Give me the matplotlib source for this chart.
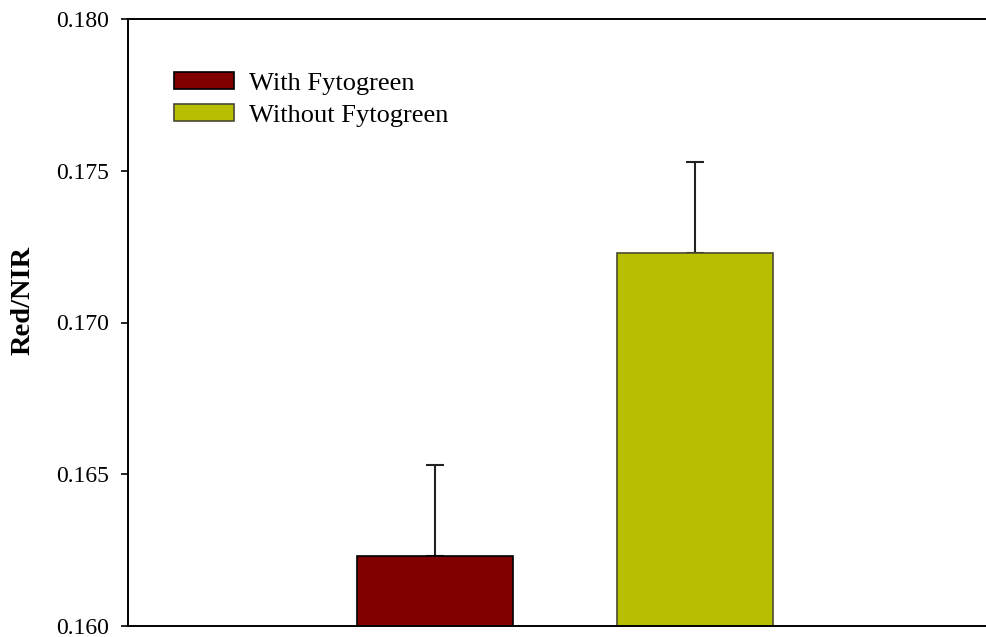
import matplotlib
matplotlib.use('Agg')
import matplotlib.pyplot as plt

# data
groups = ['With Fytogreen', 'Without Fytogreen']
values = [0.1623, 0.1723]
errors = [0.0030, 0.0030]
colors = ['#800000', '#b8bf00']
edges = ['#000000', '#4a4a30']

plt.rcParams['font.family'] = ['Liberation Serif', 'DejaVu Serif']

fig = plt.figure(figsize=(9.87, 6.37), dpi=100)
ax = fig.add_axes([128/987, 1-626/637, (987-128)/987 + 0.01, (626-19)/637])

pos = [0, 1]
for i in range(len(groups)):
    ax.bar(pos[i], values[i], width=0.6, color=colors[i], edgecolor=edges[i],
           linewidth=1.2, label=groups[i], zorder=2)
    ax.errorbar(pos[i], values[i], yerr=[[0], [errors[i]]], fmt='none',
                ecolor='#222222', elinewidth=1.5, capsize=6.5, capthick=1.5, zorder=1)

ax.set_xlim(-1.178, 2.16)
ax.set_ylim(0.160, 0.180)
ax.set_yticks([0.160, 0.165, 0.170, 0.175, 0.180])
ax.set_yticklabels(['0.160', '0.165', '0.170', '0.175', '0.180'])
ax.set_xticks([])
ax.tick_params(axis='y', direction='out', length=5, width=1.2, labelsize=17, pad=8.5)
for s in ['left', 'top', 'bottom']:
    ax.spines[s].set_linewidth(1.4)
ax.spines['right'].set_visible(False)

ax.set_ylabel('Red/NIR', fontsize=20.5, fontweight='bold')
ax.yaxis.set_label_coords(-0.106, 0.537)

ax.legend(loc='upper left', bbox_to_anchor=(0.0525, 0.9135), frameon=False, fontsize=19,
          handlelength=2.27, handleheight=0.64, handletextpad=0.6, labelspacing=0.36,
          borderaxespad=0, borderpad=0)

fig.savefig('out.png', dpi=100)
